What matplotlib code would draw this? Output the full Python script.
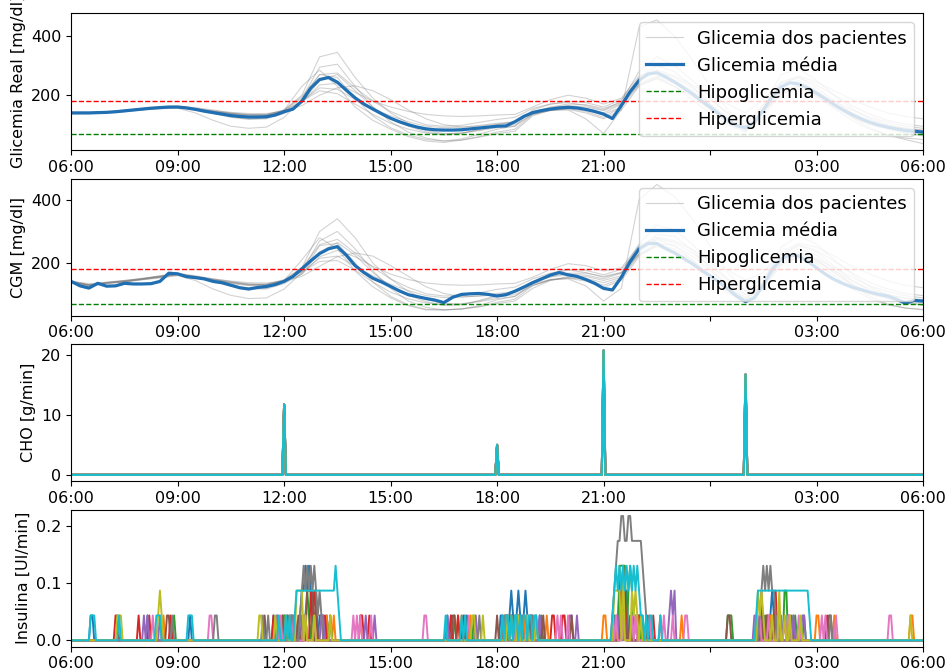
import numpy as np
import matplotlib
matplotlib.use("Agg")
import matplotlib.pyplot as plt

plt.rcParams['font.family'] = ['DejaVu Sans']

# eixo de tempo: horas depois das 06:00
tick_pos = [0, 3, 6, 9, 12, 15, 18, 21, 24]
tick_lab = ["06:00", "09:00", "12:00", "15:00", "18:00", "21:00", "", "03:00", "06:00"]

hipo = 70
hiper = 180

# glicemia real dos 10 pacientes (a cada 30 min, 06:00 -> 06:00)
real_p = [
    [138,139,141,146,152,157,160,154,145,138,134,135,150,200,330,345,260,190,140,105,80,70,72,80,90,95,150,170,175,165,150,180,280,330,300,250,195,135,95,165,270,290,250,200,155,120,100,88,80],
    [142,142,143,148,155,160,163,158,150,140,135,133,148,190,295,305,230,160,110,75,55,45,48,58,70,78,130,150,160,155,140,170,260,300,280,230,170,110,80,150,240,260,225,180,140,110,90,75,65],
    [140,140,142,146,151,156,158,150,138,125,118,120,138,175,250,270,215,160,120,95,75,65,70,85,100,110,140,150,150,120,70,150,430,455,400,320,230,150,100,150,230,250,215,170,125,90,65,50,36],
    [141,141,142,147,153,158,160,152,140,128,120,122,150,230,285,230,160,115,85,60,45,40,48,60,75,85,135,150,155,145,125,160,250,280,245,200,150,105,80,140,220,235,200,160,125,100,85,72,62],
    [139,139,141,146,152,157,159,153,145,138,132,132,145,175,235,240,210,180,160,145,135,130,128,130,133,135,160,185,200,190,170,190,265,285,265,235,200,170,140,185,245,265,245,215,185,160,140,128,120],
    [140,140,142,147,153,158,160,155,148,142,138,138,145,165,200,225,232,215,185,150,120,100,92,95,102,108,140,160,170,168,155,175,240,265,250,215,170,125,95,140,205,220,200,170,140,115,98,88,82],
    [137,138,140,144,150,154,156,140,115,95,88,92,125,185,270,260,190,130,90,65,50,45,52,68,85,95,135,148,152,140,120,150,230,260,230,185,140,100,75,130,205,225,195,155,115,85,65,55,50],
    [142,142,144,149,155,160,162,155,145,137,130,131,148,180,225,220,185,155,130,110,95,90,92,98,105,110,145,158,165,160,148,172,235,255,230,195,155,115,90,145,210,230,210,180,150,125,108,95,88],
    [140,141,143,148,154,159,161,154,146,139,133,134,150,195,270,275,225,180,145,120,100,95,98,108,118,125,155,170,180,175,160,185,255,280,260,225,185,140,110,165,240,260,235,200,165,135,115,102,95],
    [139,139,141,145,151,156,158,151,142,134,128,129,145,180,215,205,170,135,105,85,72,68,72,82,95,100,135,148,155,150,135,160,235,260,240,200,155,110,85,145,215,230,205,165,130,105,88,78,72],
]

# CGM dos 10 pacientes (a cada 30 min)
cgm_p = [
    [140,132,136,140,150,158,166,158,148,138,130,134,145,185,300,340,280,200,150,110,85,72,70,78,88,94,135,165,178,170,155,170,260,320,305,260,205,150,100,140,250,285,260,210,165,125,100,88,80],
    [143,135,138,145,150,160,168,160,150,142,133,132,145,175,270,300,245,175,120,80,60,52,55,62,72,80,120,145,158,158,145,160,240,290,285,240,185,125,85,130,225,255,235,190,145,112,92,78,68],
    [141,130,137,142,148,155,165,155,140,127,118,118,135,165,235,265,225,170,125,98,78,66,68,82,98,108,135,148,150,128,80,120,400,448,410,340,255,170,110,135,215,245,225,180,132,95,70,58,52],
    [142,131,138,143,150,157,165,155,142,130,121,120,145,210,280,245,175,125,90,65,52,52,55,62,76,86,128,148,154,148,130,150,235,275,255,210,160,115,85,125,210,235,210,170,130,102,88,75,66],
    [140,129,137,142,149,156,163,156,147,139,133,131,142,165,220,240,220,190,165,148,137,132,130,131,134,136,155,180,198,192,175,185,255,282,270,243,208,178,146,170,235,262,250,222,190,165,144,130,122],
    [141,130,138,143,150,157,164,157,150,143,138,137,143,158,190,220,232,222,192,158,125,104,94,95,101,107,135,157,168,168,158,170,228,262,255,222,178,133,100,128,195,218,205,176,145,118,100,90,84],
    [138,127,135,140,147,153,160,145,118,98,88,90,118,170,255,262,200,140,95,68,54,52,55,66,84,95,130,146,152,143,124,145,220,258,238,195,148,105,78,118,195,222,200,160,120,88,68,58,54],
    [143,132,140,145,152,159,166,157,147,138,131,130,146,172,215,222,190,160,133,113,97,91,92,97,104,110,140,156,164,162,150,168,228,252,236,202,162,120,93,132,200,228,214,185,155,128,110,97,90],
    [141,130,139,144,151,158,165,156,148,140,134,133,148,185,258,275,232,186,150,123,103,96,97,106,117,124,150,168,180,177,163,180,245,278,265,232,192,146,114,152,228,258,240,205,170,138,118,104,97],
    [140,128,137,141,148,155,162,153,144,135,129,128,143,172,205,208,178,140,108,87,74,69,71,80,94,100,130,146,154,152,138,155,225,256,245,208,162,116,88,132,205,228,210,170,134,108,90,80,74],
]

# glicemia média (a cada 15 min)
real_media = [
    140,140,140,141,142,144,147,150,153,156,158,160,
    160,157,152,146,141,136,131,128,126,126,127,133,
    144,153,180,224,253,260,244,217,191,170,153,137,
    122,110,100,92,86,83,82,82,83,86,89,92,
    95,96,110,128,141,148,153,157,159,157,152,145,
    136,121,165,212,250,272,276,262,245,225,205,182,
    160,137,115,97,90,108,150,195,228,242,238,225,
    207,188,168,150,134,120,108,99,92,86,81,78,
    75,
]
cgm_media = [
    142,128,121,136,127,128,136,134,134,135,142,168,
    166,157,154,150,142,138,130,122,118,123,126,132,
    142,158,182,207,230,245,252,225,192,170,152,140,
    126,112,100,94,88,83,75,92,101,103,104,101,
    96,100,111,124,138,150,162,170,163,158,148,136,
    120,115,155,205,245,262,262,246,232,215,198,178,
    160,140,118,95,78,90,130,180,212,226,222,205,
    185,165,148,135,124,116,108,101,96,86,73,82,
    80,
]

# refeições (horas depois das 06:00) e taxa de CHO [g/min]
cho_horas = [6.0, 12.0, 15.0, 19.0]
cho_taxa = [11.7, 5.0, 20.7, 16.7]

# insulina: níveis e rajadas (início em horas, um dígito por amostra de 3 min)
ins_niveis = [0.0, 0.0435, 0.087, 0.1305, 0.174, 0.2175]
ins_p = [
    [(0.55,"11"), (2.15,"1"), (3.35,"1"), (5.7,"101"), (6.0,"10101"), (6.45,"1223232"), (6.9,"101"),
     (7.05,"1101"), (10.6,"101"), (11.15,"1"), (12.1,"1101"), (12.35,"1210121012101"), (13.0,"10101"),
     (15.3,"1"), (15.45,"21212"), (15.9,"1011"), (19.3,"101"), (19.5,"1"), (19.7,"12101")],
    [(2.6,"1"), (5.85,"101"), (6.2,"1"), (6.55,"11"), (7.2,"10101"), (8.15,"1"), (10.9,"101"), (11.25,"1"),
     (12.2,"101"), (12.75,"1"), (13.4,"1"), (15.0,"11"), (15.4,"12121"), (15.9,"101"), (16.6,"1"),
     (17.2,"1"), (19.3,"1"), (19.7,"1"), (20.35,"1"), (21.0,"11"), (21.5,"1"), (23.65,"11")],
    [(2.9,"1"), (6.0,"101"), (6.6,"12101"), (7.3,"1"), (10.8,"1"), (11.35,"1"), (12.5,"101"), (13.25,"1"),
     (15.45,"3333"), (15.7,"232"), (16.0,"101"), (18.5,"111"), (19.55,"1"), (19.75,"1"), (20.1,"22"),
     (20.3,"101"), (20.65,"1")],
    [(1.25,"11"), (1.9,"1"), (2.2,"1"), (2.8,"1"), (5.7,"1"), (6.05,"101"), (6.3,"1"), (6.75,"2121"),
     (7.15,"1"), (8.15,"11"), (8.4,"1"), (10.7,"1"), (10.9,"1"), (11.05,"1"), (12.3,"101"), (12.95,"1"),
     (13.55,"11"), (13.85,"11"), (15.5,"232"), (16.0,"11"), (16.4,"1"), (19.4,"1"), (19.6,"11"),
     (19.85,"2"), (20.1,"1"), (21.3,"1")],
    [(2.05,"101"), (2.5,"1"), (5.8,"1"), (6.25,"1"), (6.5,"101"), (7.05,"11"), (8.3,"1"), (8.55,"1"),
     (10.6,"1"), (11.4,"1"), (12.25,"11"), (12.6,"101"), (13.2,"1"), (14.05,"11"), (14.25,"1"),
     (15.35,"11"), (15.6,"1"), (16.85,"1212"), (19.25,"1"), (19.5,"1"), (20.0,"1"), (20.35,"1"), (20.6,"11")],
    [(2.7,"11"), (5.45,"1"), (5.95,"1"), (6.3,"101"), (6.65,"2222"), (6.9,"2"), (10.75,"11"), (11.1,"1"),
     (12.0,"1"), (12.4,"1"), (12.9,"1"), (13.3,"1"), (14.1,"1"), (15.5,"121"), (15.75,"1"), (16.25,"1"),
     (18.5,"11"), (19.45,"2"), (19.6,"1"), (19.8,"1"), (20.2,"11"), (21.35,"11")],
    [(2.3,"1"), (3.9,"11"), (5.9,"1"), (6.2,"1"), (6.6,"1"), (6.85,"1"), (7.95,"1"), (8.05,"101"),
     (8.45,"1"), (9.95,"11"), (11.2,"1"), (12.55,"1"), (12.85,"1"), (13.7,"101"), (14.0,"1"),
     (15.25,"101"), (15.55,"1"), (15.8,"101"), (16.3,"1"), (16.6,"101"), (16.95,"1"), (17.3,"11"),
     (19.3,"101"), (19.65,"1"), (19.9,"1"), (20.2,"1"), (20.5,"1"), (21.15,"101"), (21.55,"1"), (23.05,"11")],
    [(2.85,"1"), (4.05,"11"), (5.4,"1"), (5.55,"1"), (6.2,"11"), (6.45,"12323232321"), (7.0,"21"),
     (11.5,"1"), (12.2,"11"), (12.6,"101"), (13.0,"1"), (15.25,"12344554455444444321"),
     (19.4,"12323232"), (19.8,"21"), (21.4,"1")],
    [(1.3,"111"), (2.45,"121"), (5.3,"11"), (5.75,"1"), (6.05,"1"), (6.35,"2222"), (6.6,"1"), (6.85,"1"),
     (7.3,"1"), (11.3,"11"), (11.6,"1"), (12.3,"101"), (12.6,"1"), (12.85,"1"), (13.1,"1"), (15.3,"2222"),
     (15.55,"3"), (15.8,"2121"), (16.05,"1"), (19.35,"2121"), (19.75,"1"), (19.95,"2"), (20.1,"1"),
     (20.25,"1"), (20.55,"1"), (23.65,"1")],
    [(0.55,"111"), (1.35,"1"), (2.4,"111"), (3.3,"111"), (5.85,"1"), (6.05,"101"),
     (6.3,"12222222222222222222222321"), (10.55,"1"), (11.0,"101"), (12.15,"1011010110101101"),
     (12.95,"1011"), (15.25,"12323232323232321"), (16.1,"1010110"), (16.6,"1"),
     (19.3,"1222222222222222222222222222221")],
]

t30 = np.arange(49) * 0.5
t15 = np.arange(97) * 0.25
t3 = np.arange(481) * 0.05

cho = np.zeros(481)
for h, v in zip(cho_horas, cho_taxa):
    cho[int(round(h * 20))] = v

fs = 11.5
fig, axs = plt.subplots(4, 1, figsize=(9.49, 6.70), dpi=100)
fig.subplots_adjust(left=0.075, right=0.9726, top=0.98, bottom=0.035, hspace=0.21)

def glicemia(ax, pacientes, media, ylabel, ylim):
    for i, y in enumerate(pacientes):
        ax.plot(t30, y, color="grey", alpha=0.35, lw=0.8,
                label="Glicemia dos pacientes" if i == 0 else None)
    ax.plot(t15, media, color="#1f6fb2", lw=2.3, label="Glicemia média")
    ax.axhline(hipo, color="green", ls="--", lw=1, label="Hipoglicemia")
    ax.axhline(hiper, color="red", ls="--", lw=1, label="Hiperglicemia")
    ax.set_ylim(ylim)
    ax.set_yticks([200, 400])
    ax.set_ylabel(ylabel, fontsize=fs)
    ax.legend(loc="upper right", fontsize=13)

glicemia(axs[0], real_p, real_media, "Glicemia Real [mg/dl]", (14, 477))
glicemia(axs[1], cgm_p, cgm_media, "CGM [mg/dl]", (34, 466))

for k in range(10):
    axs[2].plot(t3, cho, color="C%d" % k, lw=1.5)
axs[2].set_ylabel("CHO [g/min]", fontsize=fs)
axs[2].set_yticks([0, 10, 20])

for k in range(10):
    ins = np.zeros(481)
    for ini, seq in ins_p[k]:
        i0 = int(round(ini * 20))
        for j, c in enumerate(seq):
            ins[i0 + j] = ins_niveis[int(c)]
    axs[3].plot(t3, ins, color="C%d" % k, lw=1.4)
axs[3].set_ylabel("Insulina [UI/min]", fontsize=fs)
axs[3].set_yticks([0.0, 0.1, 0.2])

for ax in axs:
    ax.set_xlim(0, 24)
    ax.set_xticks(tick_pos)
    ax.set_xticklabels(tick_lab)
    ax.tick_params(labelsize=fs)

fig.savefig("out.png", dpi=100)
